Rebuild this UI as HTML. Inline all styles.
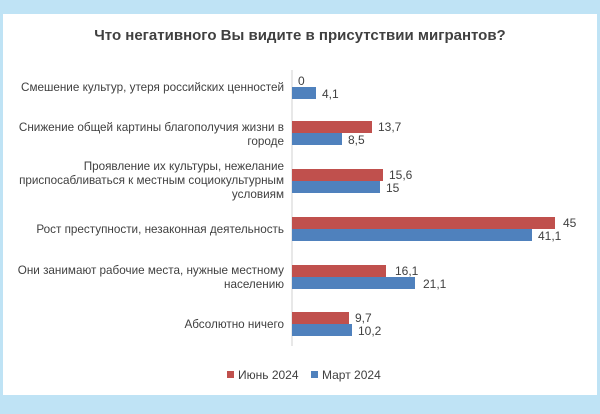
<!DOCTYPE html>
<html><head><meta charset="utf-8"><style>
body{margin:0;width:600px;height:409px;background:#bfe3f5;overflow:hidden;font-family:"Liberation Sans","DejaVu Sans",sans-serif;}
</style></head><body>
<svg width="600" height="409" xmlns="http://www.w3.org/2000/svg" font-family="Liberation Sans, DejaVu Sans, sans-serif">
<rect x="0" y="0" width="600" height="409" fill="#bfe3f5"/>
<rect x="3" y="14" width="594" height="381" fill="#ffffff"/>
<text x="300" y="40" text-anchor="middle" font-size="15" font-weight="bold" fill="#404040">Что негативного Вы видите в присутствии мигрантов?</text>
<line x1="292" y1="70" x2="292" y2="346" stroke="#d0d0d0" stroke-width="1"/>
<g font-size="11.7" fill="#404040" text-anchor="end">
<text x="284" y="91">Смешение культур, утеря российских ценностей</text>
<text x="284" y="131">Снижение общей картины благополучия жизни в</text>
<text x="284" y="145">городе</text>
<text x="284" y="170">Проявление их культуры, нежелание</text>
<text x="284" y="184">приспосабливаться к местным социокультурным</text>
<text x="284" y="198">условиям</text>
<text x="284" y="233">Рост преступности, незаконная деятельность</text>
<text x="284" y="274">Они занимают рабочие места, нужные местному</text>
<text x="284" y="288">населению</text>
<text x="284" y="328">Абсолютно ничего</text>
</g>
<g fill="#c0504d">
<rect x="292" y="121" width="80" height="12"/>
<rect x="292" y="169" width="91" height="12"/>
<rect x="292" y="217" width="263" height="12"/>
<rect x="292" y="265" width="94" height="12"/>
<rect x="292" y="312" width="57" height="12"/>
</g>
<g fill="#4f81bd">
<rect x="292" y="87" width="24" height="12"/>
<rect x="292" y="133" width="50" height="12"/>
<rect x="292" y="181" width="88" height="12"/>
<rect x="292" y="229" width="240" height="12"/>
<rect x="292" y="277" width="123" height="12"/>
<rect x="292" y="324" width="60" height="12"/>
</g>
<g font-size="12" fill="#404040">
<text x="298" y="85">0</text>
<text x="322" y="98">4,1</text>
<text x="378" y="131">13,7</text>
<text x="348" y="144">8,5</text>
<text x="389" y="179">15,6</text>
<text x="386" y="192">15</text>
<text x="563" y="227">45</text>
<text x="538" y="240">41,1</text>
<text x="395" y="275">16,1</text>
<text x="423" y="288">21,1</text>
<text x="355" y="322">9,7</text>
<text x="358" y="335">10,2</text>
</g>
<rect x="227" y="371" width="7" height="7" fill="#c0504d"/>
<text x="238" y="379" font-size="12" fill="#404040">Июнь 2024</text>
<rect x="311" y="371" width="7" height="7" fill="#4f81bd"/>
<text x="322" y="379" font-size="12" fill="#404040">Март 2024</text>
</svg>
</body></html>
